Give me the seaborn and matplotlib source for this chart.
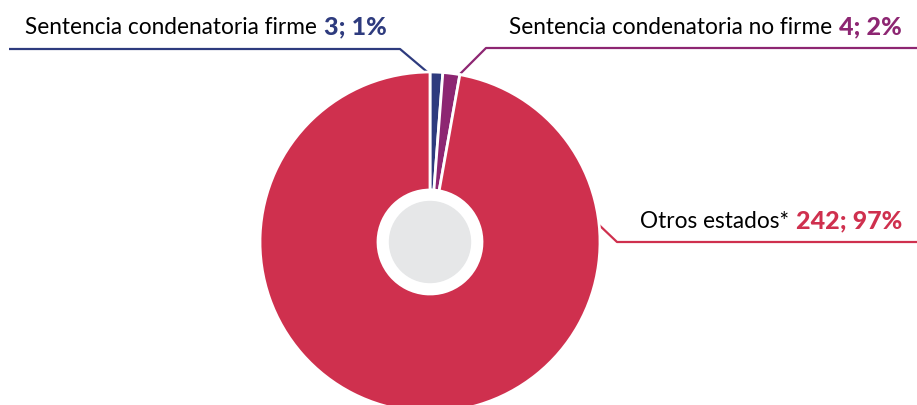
import matplotlib
matplotlib.use("Agg")
import matplotlib.pyplot as plt
import seaborn as sns

# datos
estados = ["Sentencia condenatoria firme", "Sentencia condenatoria no firme", "Otros estados*"]
casos = [3, 4, 242]
porcentajes = ["1%", "2%", "97%"]
colores = ["#2E3B7E", "#8D2672", "#CF304E"]

sns.set_theme(style="white")
plt.rcParams["font.family"] = ["Lato", "DejaVu Sans"]

W, H = 917, 405
fig = plt.figure(figsize=(W / 100, H / 100), dpi=100)
ax = fig.add_axes([0, 0, 1, 1])

# dona
cx, cy = 430, H - 242
ax.pie(casos, colors=colores, startangle=90, counterclock=False,
       radius=170, center=(cx, cy), frame=True,
       wedgeprops=dict(width=118, edgecolor="white", linewidth=2))
ax.add_patch(plt.Circle((cx, cy), 40.5, color="#E6E7E8", zorder=5))

ax.set_xlim(0, W)
ax.set_ylim(0, H)
ax.set_aspect("equal")
ax.axis("off")

# lineas guia
guias = [
    [(9, 49), (400, 49), (432, 76)],
    [(917, 48), (486, 48), (458, 76)],
    [(917, 242), (617, 242), (597, 223)],
]
for pts, c in zip(guias, colores):
    xs = [p[0] for p in pts]
    ys = [H - p[1] for p in pts]
    ax.plot(xs, ys, color=c, lw=1.6, zorder=0, solid_capstyle="butt")

renderer = fig.canvas.get_renderer()
fs = 16.3
gap = 7
num_font = dict(fontsize=18, fontweight="black")


def etiqueta(x, y, texto, numero, color, ha):
    if ha == "left":
        t = ax.text(x, H - y, texto, fontsize=fs, color="black", ha="left", va="baseline")
        bb = t.get_window_extent(renderer)
        ax.text(bb.x1 + gap, H - y, numero, color=color, ha="left", va="baseline", **num_font)
    else:
        t = ax.text(x, H - y, numero, color=color, ha="right", va="baseline", **num_font)
        bb = t.get_window_extent(renderer)
        ax.text(bb.x0 - gap, H - y, texto, fontsize=fs, color="black", ha="right", va="baseline")


posiciones = [(25, 34, "left"), (902, 34, "right"), (902, 228, "right")]
for (x, y, ha), est, n, p, c in zip(posiciones, estados, casos, porcentajes, colores):
    etiqueta(x, y, est, f"{n}; {p}", c, ha)

fig.savefig("out.png", dpi=100)
